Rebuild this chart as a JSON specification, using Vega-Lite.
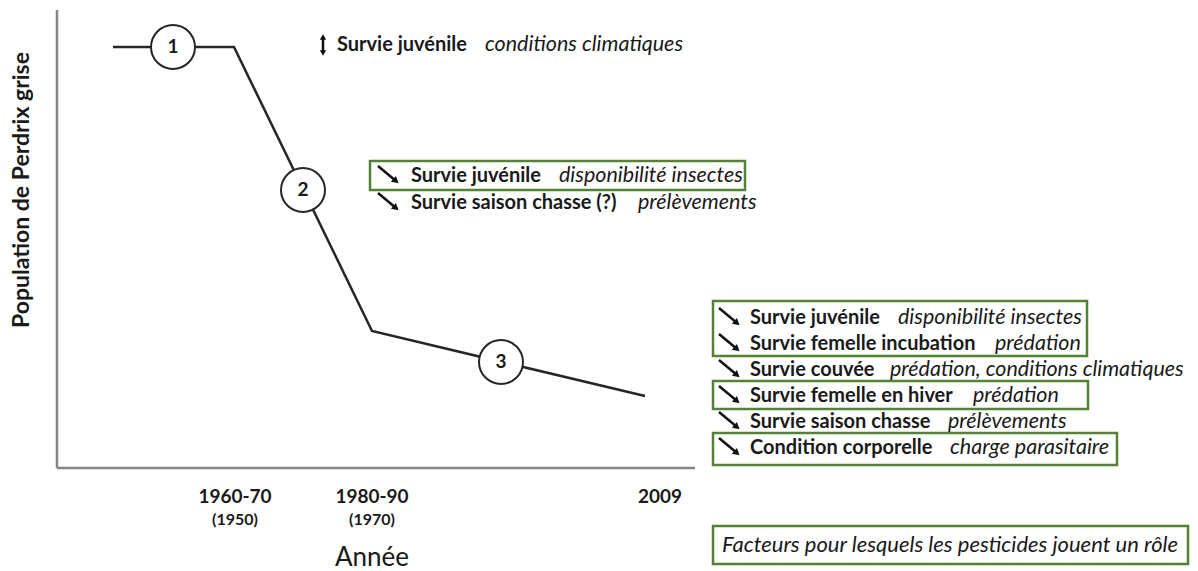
{
  "$schema": "https://vega.github.io/schema/vega-lite/v6.json",
  "width": 1198,
  "height": 571,
  "padding": 0,
  "autosize": {"type": "fit", "contains": "padding"},
  "background": "white",
  "config": {"view": {"stroke": null}, "text": {"font": "Lato", "color": "#1a1a1a"}},
  "datasets": {
    "axes": [
      {"axe": "x", "t": 0, "t2": 638, "pop": 0, "pop2": 0},
      {"axe": "y", "t": 0, "t2": 0, "pop": 0, "pop2": 458}
    ],
    "trend": [
      {"t": 56, "pop": 421},
      {"t": 177, "pop": 421},
      {"t": 315, "pop": 137},
      {"t": 588, "pop": 72}
    ],
    "phases": [
      {"label": "1", "t": 116, "pop": 421},
      {"label": "2", "t": 246, "pop": 278},
      {"label": "3", "t": 444, "pop": 106}
    ],
    "ticks": [
      {"label": "1960-70", "sub": "(1950)", "t": 178, "pop": -29, "pop_sub": -52},
      {"label": "1980-90", "sub": "(1970)", "t": 315, "pop": -29, "pop_sub": -52},
      {"label": "2009", "sub": "", "t": 603, "pop": -29, "pop_sub": -52}
    ],
    "facteurs": [
      {"phase": 1, "facteur": "Survie juvénile", "cause": "conditions climatiques", "pesticide": false, "t": 280, "t_cause": 428, "pop": 423},
      {"phase": 2, "facteur": "Survie juvénile", "cause": "disponibilité insectes", "pesticide": true, "t": 354, "t_cause": 502, "pop": 292},
      {"phase": 2, "facteur": "Survie saison chasse (?)", "cause": "prélèvements", "pesticide": false, "t": 354, "t_cause": 581, "pop": 265},
      {"phase": 3, "facteur": "Survie juvénile", "cause": "disponibilité insectes", "pesticide": true, "t": 693, "t_cause": 841, "pop": 150},
      {"phase": 3, "facteur": "Survie femelle incubation", "cause": "prédation", "pesticide": true, "t": 693, "t_cause": 938, "pop": 124},
      {"phase": 3, "facteur": "Survie couvée", "cause": "prédation, conditions climatiques", "pesticide": false, "t": 693, "t_cause": 833, "pop": 98},
      {"phase": 3, "facteur": "Survie femelle en hiver", "cause": "prédation", "pesticide": true, "t": 693, "t_cause": 916, "pop": 72},
      {"phase": 3, "facteur": "Survie saison chasse", "cause": "prélèvements", "pesticide": false, "t": 693, "t_cause": 891, "pop": 46},
      {"phase": 3, "facteur": "Condition corporelle", "cause": "charge parasitaire", "pesticide": true, "t": 693, "t_cause": 893, "pop": 20}
    ],
    "fleches": [
      {"t": 321, "pop": 302, "t2": 339, "pop2": 287},
      {"t": 321, "pop": 275, "t2": 339, "pop2": 260},
      {"t": 662, "pop": 160, "t2": 680, "pop2": 145},
      {"t": 662, "pop": 134, "t2": 680, "pop2": 119},
      {"t": 662, "pop": 108, "t2": 680, "pop2": 93},
      {"t": 662, "pop": 82, "t2": 680, "pop2": 67},
      {"t": 662, "pop": 56, "t2": 680, "pop2": 41},
      {"t": 662, "pop": 30, "t2": 680, "pop2": 15}
    ],
    "stable": [
      {"t": 266, "pop": 431, "t2": 266, "pop2": 415}
    ],
    "cadres": [
      {"t": 313, "t2": 688, "pop": 307, "pop2": 278},
      {"t": 656, "t2": 1030, "pop": 167, "pop2": 112},
      {"t": 656, "t2": 1031, "pop": 87, "pop2": 59},
      {"t": 656, "t2": 1060, "pop": 35, "pop2": 3},
      {"t": 656, "t2": 1131, "pop": -58, "pop2": -96}
    ],
    "legende": [
      {"texte": "Facteurs pour lesquels les pesticides jouent un rôle", "t": 665, "pop": -77}
    ],
    "titres_x": [
      {"texte": "Année", "t": 315, "pop": -90}
    ],
    "titres_y": [
      {"texte": "Population de Perdrix grise", "t": -35, "pop": 278}
    ]
  },
  "encoding": {
    "x": {"field": "t", "type": "quantitative", "scale": {"domain": [-57, 1141], "nice": false, "zero": false}, "axis": null},
    "y": {"field": "pop", "type": "quantitative", "scale": {"domain": [-103, 468], "nice": false, "zero": false}, "axis": null}
  },
  "layer": [
    {
      "data": {"name": "cadres"},
      "mark": {"type": "rect", "fill": "transparent", "stroke": "#548235", "strokeWidth": 2.5},
      "encoding": {"x2": {"field": "t2"}, "y2": {"field": "pop2"}}
    },
    {
      "data": {"name": "axes"},
      "mark": {"type": "rule", "color": "#858585", "strokeWidth": 2.5},
      "encoding": {"x2": {"field": "t2"}, "y2": {"field": "pop2"}}
    },
    {
      "data": {"name": "trend"},
      "mark": {"type": "line", "color": "#262626", "strokeWidth": 2.5},
      "encoding": {}
    },
    {
      "data": {"name": "phases"},
      "mark": {"type": "point", "shape": "circle", "size": 1936, "filled": true, "fill": "white", "stroke": "#262626", "strokeWidth": 2, "opacity": 1, "fillOpacity": 1}
    },
    {
      "data": {"name": "phases"},
      "mark": {"type": "text", "fontWeight": "bold", "fontSize": 19, "align": "center", "baseline": "middle"},
      "encoding": {"text": {"field": "label"}}
    },
    {
      "data": {"name": "ticks"},
      "mark": {"type": "text", "fontWeight": "bold", "fontSize": 19, "align": "center", "baseline": "middle"},
      "encoding": {"text": {"field": "label"}}
    },
    {
      "data": {"name": "ticks"},
      "mark": {"type": "text", "fontWeight": "bold", "fontSize": 16, "align": "center", "baseline": "middle"},
      "encoding": {"y": {"field": "pop_sub", "type": "quantitative"}, "text": {"field": "sub"}}
    },
    {
      "data": {"name": "titres_x"},
      "mark": {"type": "text", "fontSize": 26, "align": "center", "baseline": "middle"},
      "encoding": {"text": {"field": "texte"}}
    },
    {
      "data": {"name": "titres_y"},
      "mark": {"type": "text", "fontSize": 23, "fontWeight": "bold", "angle": 270, "align": "center", "baseline": "middle"},
      "encoding": {"text": {"field": "texte"}}
    },
    {
      "data": {"name": "facteurs"},
      "mark": {"type": "text", "fontWeight": "bold", "fontSize": 20, "align": "left", "baseline": "middle"},
      "encoding": {"text": {"field": "facteur"}}
    },
    {
      "data": {"name": "facteurs"},
      "mark": {"type": "text", "fontStyle": "italic", "fontSize": 21.5, "align": "left", "baseline": "middle"},
      "encoding": {"x": {"field": "t_cause", "type": "quantitative"}, "text": {"field": "cause"}}
    },
    {
      "data": {"name": "fleches"},
      "mark": {"type": "rule", "color": "#111111", "strokeWidth": 2.5},
      "encoding": {"x2": {"field": "t2"}, "y2": {"field": "pop2"}}
    },
    {
      "data": {"name": "fleches"},
      "mark": {"type": "point", "shape": "triangle-up", "size": 60, "filled": true, "color": "#111111", "opacity": 1, "angle": 130},
      "encoding": {"x": {"field": "t2", "type": "quantitative"}, "y": {"field": "pop2", "type": "quantitative"}}
    },
    {
      "data": {"name": "stable"},
      "mark": {"type": "rule", "color": "#111111", "strokeWidth": 2.5},
      "encoding": {"y2": {"field": "pop2"}}
    },
    {
      "data": {"name": "stable"},
      "mark": {"type": "point", "shape": "triangle-up", "size": 40, "filled": true, "color": "#111111", "opacity": 1}
    },
    {
      "data": {"name": "stable"},
      "mark": {"type": "point", "shape": "triangle-down", "size": 40, "filled": true, "color": "#111111", "opacity": 1},
      "encoding": {"y": {"field": "pop2", "type": "quantitative"}}
    },
    {
      "data": {"name": "legende"},
      "mark": {"type": "text", "fontStyle": "italic", "fontSize": 22, "align": "left", "baseline": "middle"},
      "encoding": {"text": {"field": "texte"}}
    }
  ]
}
